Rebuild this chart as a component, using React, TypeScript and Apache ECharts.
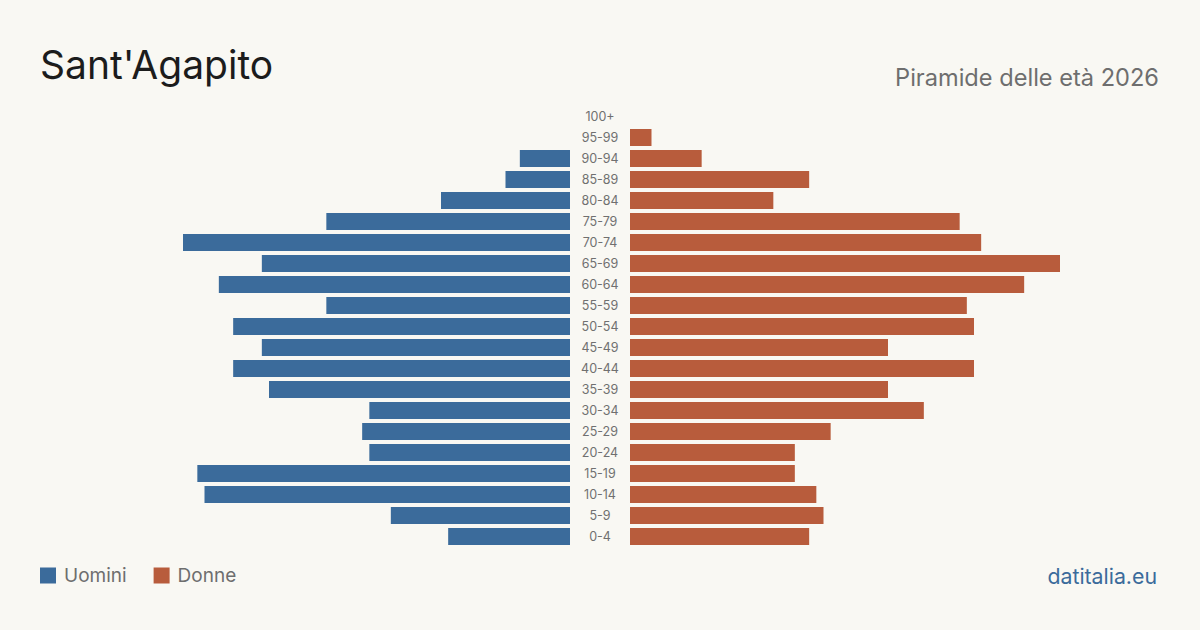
import React, { useEffect, useRef } from "react";
import * as echarts from "echarts";

const categories = ["0-4","5-9","10-14","15-19","20-24","25-29","30-34","35-39","40-44","45-49","50-54","55-59","60-64","65-69","70-74","75-79","80-84","85-89","90-94","95-99","100+"];
const males = [17, 25, 51, 52, 28, 29, 28, 42, 47, 43, 47, 34, 49, 43, 54, 34, 18, 9, 7, 0, 0];
const females = [25, 27, 26, 23, 23, 28, 41, 36, 48, 36, 48, 47, 55, 60, 49, 46, 20, 25, 10, 3, 0];

const title = "Sant'Agapito";
const subtitle = "Piramide delle età 2026";
const source = "datitalia.eu";
const BLUE = "#3b6b9b";
const ORANGE = "#b85c3c";
const FONT = "Inter, 'Noto Sans', sans-serif";

export default function App() {
  const ref = useRef<HTMLDivElement>(null);
  useEffect(() => {
    const chart = echarts.init(ref.current!, null, { renderer: "svg" });
    const maxV = Math.max(...males, ...females);
    const top = 106;
    const height = 441;
    chart.setOption({
      animation: false,
      backgroundColor: "#f9f8f3",
      textStyle: { fontFamily: FONT },
      title: [
        { text: title, left: 40, top: 45, padding: 0, textStyle: { fontFamily: FONT, fontSize: 39, fontWeight: "normal", color: "#1c1c1c" } },
        { text: subtitle, right: 41, top: 65, padding: 0, textStyle: { fontFamily: FONT, fontSize: 23.6, fontWeight: "normal", color: "#6e6e6e" } },
        { text: source, right: 43, top: 565, padding: 0, textStyle: { fontFamily: FONT, fontSize: 21.3, fontWeight: "normal", color: BLUE } },
      ],
      legend: {
        left: 40,
        top: 566,
        padding: 0,
        itemWidth: 16,
        itemHeight: 16,
        itemGap: 27,
        icon: "rect",
        textStyle: { fontFamily: FONT, fontSize: 19, color: "#6e6e6e", padding: [0, 0, 0, 3] },
        data: ["Uomini", "Donne"],
      },
      grid: [
        { left: 140, width: 430, top, height },
        { left: 630, width: 430, top, height },
      ],
      xAxis: [
        { type: "value", gridIndex: 0, inverse: true, min: 0, max: maxV, show: false },
        { type: "value", gridIndex: 1, min: 0, max: maxV, show: false },
      ],
      yAxis: [
        { type: "category", gridIndex: 0, data: categories, show: false },
        {
          type: "category",
          gridIndex: 1,
          data: categories,
          axisLine: { show: false },
          axisTick: { show: false },
          axisLabel: { align: "center", margin: 30, fontSize: 12.5, color: "#707070", fontFamily: FONT },
        },
      ],
      series: [
        { name: "Uomini", type: "bar", xAxisIndex: 0, yAxisIndex: 0, data: males, barWidth: 17, itemStyle: { color: BLUE } },
        { name: "Donne", type: "bar", xAxisIndex: 1, yAxisIndex: 1, data: females, barWidth: 17, itemStyle: { color: ORANGE } },
      ],
    });
    return () => chart.dispose();
  }, []);
  return <div ref={ref} style={{ width: 1200, height: 630, position: "absolute", left: 0, top: 0 }} />;
}
